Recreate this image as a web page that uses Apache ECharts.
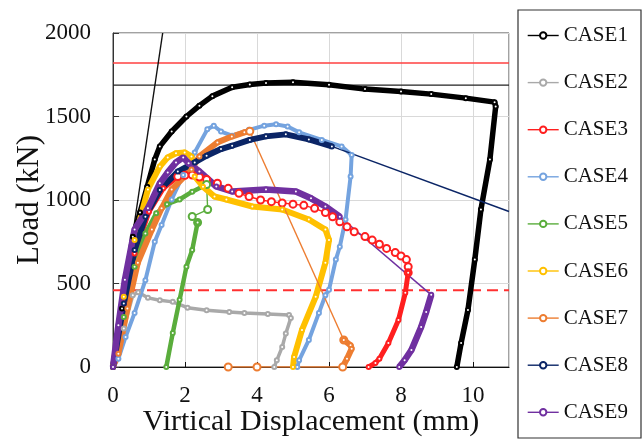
<!DOCTYPE html>
<html><head><meta charset="utf-8">
<script src="https://cdn.jsdelivr.net/npm/echarts@6/dist/echarts.min.js"></script>
<style>html,body{margin:0;padding:0;background:#fff}#c{width:644px;height:441px}</style>
</head><body><div id="c"></div>
<script>
// ---------- data (displacement mm, load kN) ----------
const caseNames = ['CASE1','CASE2','CASE3','CASE4','CASE5','CASE6','CASE7','CASE8','CASE9'];
const xTickMax = 11, xTickStep = 2, yTickMax = 2000, yTickStep = 500;

const case1 = [[0,0],[0.25,350],[0.55,780],[0.75,925],[0.95,1080],[1.16,1243],[1.3,1321],[1.63,1410],[2.04,1500],[2.4,1565],[2.76,1622],[3.31,1675],[3.8,1692],[4.25,1700],[5.0,1705],[6.0,1690],[7.0,1664],[8.0,1650],[8.84,1634],[9.8,1610],[10.6,1586],[10.63,1560],[10.47,1243],[10.22,943],[10.05,643],[9.86,342],[9.67,144],[9.55,0]];
const case2 = [[0,0],[0.3,230],[0.55,430],[0.7,448],[0.97,414],[1.3,400],[1.66,390],[2.07,355],[2.6,340],[3.23,330],[3.65,324],[4.3,318],[4.89,312],[4.94,294],[4.8,200],[4.7,120],[4.55,40],[4.48,0]];
const case3Rise = [[0,0],[0.3,380],[0.6,680],[1.0,930],[1.4,1070],[1.8,1140]];
const case3Chain = [[1.8,1140],[2.0,1148],[2.2,1150],[2.4,1138],[2.6,1123],[2.9,1100],[3.2,1070],[3.5,1040],[3.78,1021],[4.1,1000],[4.4,990],[4.7,982],[5.0,975],[5.3,968],[5.6,950],[5.9,925],[6.1,900],[6.3,870],[6.5,840],[6.7,810],[7.0,781],[7.2,760],[7.4,735],[7.6,710],[7.84,685],[8.0,665],[8.15,643],[8.2,600],[8.2,565]];
const case3Drop = [[8.2,565],[8.12,444],[7.93,282],[7.65,144],[7.4,50],[7.29,24],[7.1,0]];
const case4 = [[0,0],[0.15,50],[0.35,180],[0.6,324],[0.9,520],[1.16,750],[1.35,850],[1.63,1003],[1.95,1150],[2.27,1285],[2.62,1423],[2.8,1445],[3.0,1410],[3.31,1385],[3.78,1420],[4.2,1445],[4.53,1453],[4.85,1440],[5.17,1405],[5.8,1360],[6.35,1321],[6.63,1270],[6.6,1141],[6.46,883],[6.3,720],[6.19,643],[6.0,462],[5.9,430],[5.72,324],[5.44,162],[5.17,40],[5.12,0]];
const case5Rise = [[0,0],[0.3,300],[0.6,600],[0.9,800],[1.2,920],[1.5,975],[1.85,1003],[2.2,1050],[2.6,1093]];
const case5Loop = [[2.6,1093],[2.63,943],[2.2,901],[2.35,865]];
const case5Drop = [[2.35,865],[2.2,700],[2.04,601],[1.85,402],[1.66,204],[1.48,0]];
const case6 = [[0,0],[0.3,420],[0.6,760],[0.97,1063],[1.3,1200],[1.52,1255],[1.75,1280],[1.99,1285],[2.18,1261],[2.27,1141],[2.5,1080],[2.82,1021],[3.15,1003],[3.87,961],[4.7,943],[5.44,883],[5.9,823],[6.0,760],[5.9,625],[5.63,420],[5.25,222],[5.03,60],[5.0,0]];
const case7Rise = [[0,0],[0.15,80],[0.4,350],[0.69,625],[1.08,823],[1.35,950],[1.63,1063],[2.18,1183],[2.4,1261],[2.9,1345],[3.3,1380],[3.65,1405],[3.8,1412]];
const case7Drop = [[3.8,1412],[6.41,162]];
const case7Band = [[6.41,162],[6.6,130],[6.63,110],[6.5,50],[6.38,0]];
const case7Base = [[6.38,0],[4.0,0],[3.2,0]];
const case8Rise = [[0,0],[0.3,380],[0.6,700],[0.9,900],[1.3,1060],[1.8,1170],[2.27,1225],[2.6,1265],[3.0,1305],[3.31,1325],[3.8,1360],[4.25,1381],[4.8,1393],[5.44,1363],[6.08,1321]];
const case8Tail = [[6.08,1321],[11,931]];
const case9Rise = [[0,0],[0.15,250],[0.33,522],[0.6,823],[0.97,950],[1.3,1100],[1.52,1165],[1.75,1225],[1.95,1255],[2.1,1220],[2.4,1171],[2.87,1081],[3.31,1051],[4.25,1063],[5.08,1051],[5.5,1010],[5.9,961],[6.3,900]];
const case9Drop = [[6.3,900],[8.84,432]];
const case9Band = [[8.84,432],[8.7,330],[8.56,240],[8.29,102],[8.1,40],[7.95,0]];

const refRedLoad = 1820;
const refBlackLoad = 1688;
const refDashLoad = 460;
const stiffnessLine = [[0,0],[1.38,2000]];

// ---------- styles ----------
const colors = {CASE1:'#000000',CASE2:'#a9a9a9',CASE3:'#ff1f1f',CASE4:'#74a3df',CASE5:'#5aad3c',CASE6:'#ffc000',CASE7:'#ed7d31',CASE8:'#0b2566',CASE9:'#7030a0'};
const thickW = {CASE1:5.5,CASE2:3.5,CASE3:5,CASE4:4,CASE5:4.5,CASE6:6,CASE7:6,CASE8:6,CASE9:6.5};
const FONT = 'Liberation Serif';

function seg(name, data, kind){
  const c = colors[name];
  const s = {type:'line', name, data, color:c, silent:true, clip:true, animation:false,
    symbol:'emptyCircle', itemStyle:{color:c, borderColor:c, borderWidth:1}};
  if (kind === 'thick'){ s.lineStyle = {width:thickW[name], color:c}; s.symbolSize = 4; }
  else if (kind === 'chain'){ s.lineStyle = {width:1.4, color:c}; s.symbolSize = 7; s.itemStyle.borderWidth = 1.2; }
  else if (kind === 'thin'){ s.lineStyle = {width:1.4, color:c}; s.symbolSize = 7; s.itemStyle.borderWidth = 1.2; }
  else { s.lineStyle = {width:1.5, color:c}; s.showSymbol = false; s.symbol = 'none'; }
  return s;
}
function ref(data, color, width, type){
  return {type:'line', data, silent:true, symbol:'none', animation:false, lineStyle:{color, width, type}};
}

const series = [
  ref([[0,refRedLoad],[xTickMax,refRedLoad]], '#ff4040', 1.6, 'solid'),
  ref([[0,refBlackLoad],[xTickMax,refBlackLoad]], '#222', 1.4, 'solid'),
  ref([[0,refDashLoad],[xTickMax,refDashLoad]], '#ff3030', 2, [11,6]),
  ref(stiffnessLine, '#111', 1.4, 'solid'),
  seg('CASE1', case1, 'thick'),
  seg('CASE2', case2, 'thick'),
  seg('CASE3', case3Rise, 'thick'),
  seg('CASE3', case3Chain, 'chain'),
  seg('CASE3', case3Drop, 'thick'),
  seg('CASE4', case4, 'thick'),
  seg('CASE5', case5Rise, 'thick'),
  seg('CASE5', case5Loop, 'thin'),
  seg('CASE5', case5Drop, 'thick'),
  seg('CASE6', case6, 'thick'),
  seg('CASE7', case7Rise, 'thick'),
  seg('CASE7', case7Drop, 'thin'),
  seg('CASE7', case7Band, 'thick'),
  seg('CASE7', case7Base, 'thin'),
  seg('CASE8', case8Rise, 'thick'),
  seg('CASE8', case8Tail, 'tail'),
  seg('CASE9', case9Rise, 'thick'),
  seg('CASE9', case9Drop, 'tail'),
  seg('CASE9', case9Band, 'thick')
];

const chart = echarts.init(document.getElementById('c'), null, {renderer:'canvas'});
chart.setOption({
  animation:false,
  backgroundColor:'#fff',
  grid:{left:113, right:135, top:33, bottom:74, show:true, borderColor:'#444', borderWidth:1, containLabel:false, outerBoundsMode:'none'},
  xAxis:{type:'value', min:0, max:xTickMax, interval:xTickStep,
    name:'Virtical Displacement (mm)', nameLocation:'middle', nameGap:40, nameMoveOverlap:false,
    nameTextStyle:{fontFamily:FONT, fontSize:30, color:'#111'},
    axisLine:{show:true, lineStyle:{color:'#111', width:1.2}},
    axisTick:{show:true, inside:true, length:5, lineStyle:{color:'#111'}},
    axisLabel:{fontFamily:FONT, fontSize:23, color:'#111', margin:17, showMaxLabel:false, formatter:v=>String(v)},
    splitLine:{show:true, lineStyle:{color:'#d9d9d9', width:1}}},
  yAxis:{type:'value', min:0, max:yTickMax, interval:yTickStep,
    name:'Load (kN)', nameLocation:'middle', nameGap:68, nameMoveOverlap:false,
    nameTextStyle:{fontFamily:FONT, fontSize:31, color:'#111'},
    axisLine:{show:true, lineStyle:{color:'#333', width:1}},
    axisTick:{show:true, inside:true, length:6, lineStyle:{color:'#333'}},
    axisLabel:{fontFamily:FONT, fontSize:23, color:'#111', margin:22, formatter:v=>String(v)},
    splitLine:{show:true, lineStyle:{color:'#d9d9d9', width:1}}},
  legend:{data:caseNames, orient:'vertical', left:522, top:20, itemWidth:31, itemHeight:8, itemGap:26.1,
    lineStyle:{width:1.4}, itemStyle:{borderWidth:1.2},
    textStyle:{fontFamily:FONT, fontSize:21, color:'#111', lineHeight:21}},
  graphic:[{type:'rect', shape:{x:518, y:10, width:123, height:428}, style:{fill:'none', stroke:'#333', lineWidth:1.2}, silent:true}],
  series
});
</script></body></html>
